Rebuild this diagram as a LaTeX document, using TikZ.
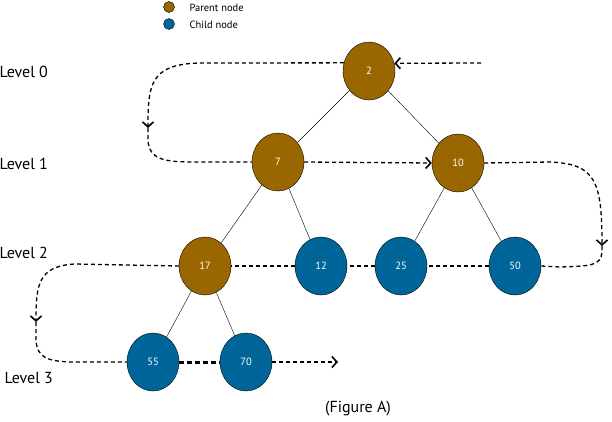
\documentclass[tikz,border=0pt]{standalone}
\usepackage{fontspec}
\setmainfont{PT Sans}
\usetikzlibrary{calc,arrows.meta,shapes.geometric}

\definecolor{parentbrown}{RGB}{153,102,0}
\definecolor{childblue}{RGB}{0,102,153}

\tikzset{
  parent/.style={ellipse,draw=black,fill=parentbrown,text=white,
    minimum width=52pt,minimum height=58pt,inner sep=0pt,font=\fontsize{10.5}{12}\selectfont},
  child/.style={ellipse,draw=black,fill=childblue,text=white,
    minimum width=52pt,minimum height=58pt,inner sep=0pt,font=\fontsize{10.5}{12}\selectfont},
  trav/.style={dashed,line width=1.3pt,dash pattern=on 4pt off 3pt},
  travto/.style={trav,-{Straight Barb[length=5pt,width=11pt,line width=1.6pt]}},
  level/.style={anchor=west,font=\fontsize{16}{18}\selectfont}
}

\begin{document}
\begin{tikzpicture}[x=1pt,y=-1pt]
  \useasboundingbox (0,0) rectangle (612,421);

  % legend
  \filldraw[fill=parentbrown,draw=black] (169,7) circle (5.5pt);
  \filldraw[fill=childblue,draw=black] (169,24) circle (5.5pt);
  \node (lp) at (186,8) [anchor=west,font=\fontsize{10.5}{12}\selectfont] {Parent node};
  \node (lc) at (186,25) [anchor=west,font=\fontsize{10.5}{12}\selectfont] {Child node};

  \node (l0) at (-4,72) [level] {Level 0};
  \node (l1) at (-4,164) [level] {Level 1};
  \node (l2) at (-4,253) [level] {Level 2};
  \node (l3) at (1,378) [level] {Level 3};

  \node (n2)  at (369, 71) [parent] {2};
  \node (n7)  at (278,162) [parent] {7};
  \node (n10) at (458,163) [parent] {10};
  \node (n17) at (205,266) [parent] {17};
  \node (n12) at (321,266) [child] {12};
  \node (n25) at (401,266) [child] {25};
  \node (n50) at (515,266) [child] {50};
  \node (n55) at (153,362) [child] {55};
  \node (n70) at (246,362) [child] {70};

  \node (fig) at (358,409) [font=\fontsize{16}{18}\selectfont] {(Figure A)};

  \draw (n2) -- (n7);
  \draw (n2) -- (n10);
  \draw (n7) -- (n17);
  \draw (n7) -- (n12);
  \draw (n10) -- (n25);
  \draw (n10) -- (n50);
  \draw (n17) -- (n55);
  \draw (n17) -- (n70);

  \coordinate (s0) at (481,63);
  \coordinate (t1) at (148,128);
  \coordinate (t2) at (602,246);
  \coordinate (t3) at (36,322);
  \coordinate (e3) at (338,362);

  % level order path
  \draw[travto] (s0) -- (n2.17);
  \draw[travto] (n2.162) -- (200,63) .. controls (150,64) and (148,85) .. (t1);
  \draw[trav] (t1) -- (148,140) .. controls (149,160) and (165,162) .. (195,162) -- (n7.west);
  \draw[travto] (n7.east) -- (n10.west);
  \draw[travto] (n10.east) -- (550,162) .. controls (595,164) and (602,180) .. (t2);
  \draw[trav] (t2) -- (602,252) .. controls (601,266) and (590,266) .. (560,267) -- (n50.east);
  \draw[trav] (n50.west) -- (n25.east);
  \draw[trav] (n25.west) -- (n12.east);
  \draw[trav] (n12.west) -- (n17.east);
  \draw[travto] (n17.west) -- (75,264) .. controls (38,266) and (36,285) .. (t3);
  \draw[trav] (t3) -- (36,340) .. controls (37,358) and (48,361) .. (70,362) -- (n55.west);
  \draw[line width=3pt,dash pattern=on 5pt off 3pt] (n55.east) -- (n70.west);
  \draw[travto] (n70.east) -- (e3);
\end{tikzpicture}
\end{document}
